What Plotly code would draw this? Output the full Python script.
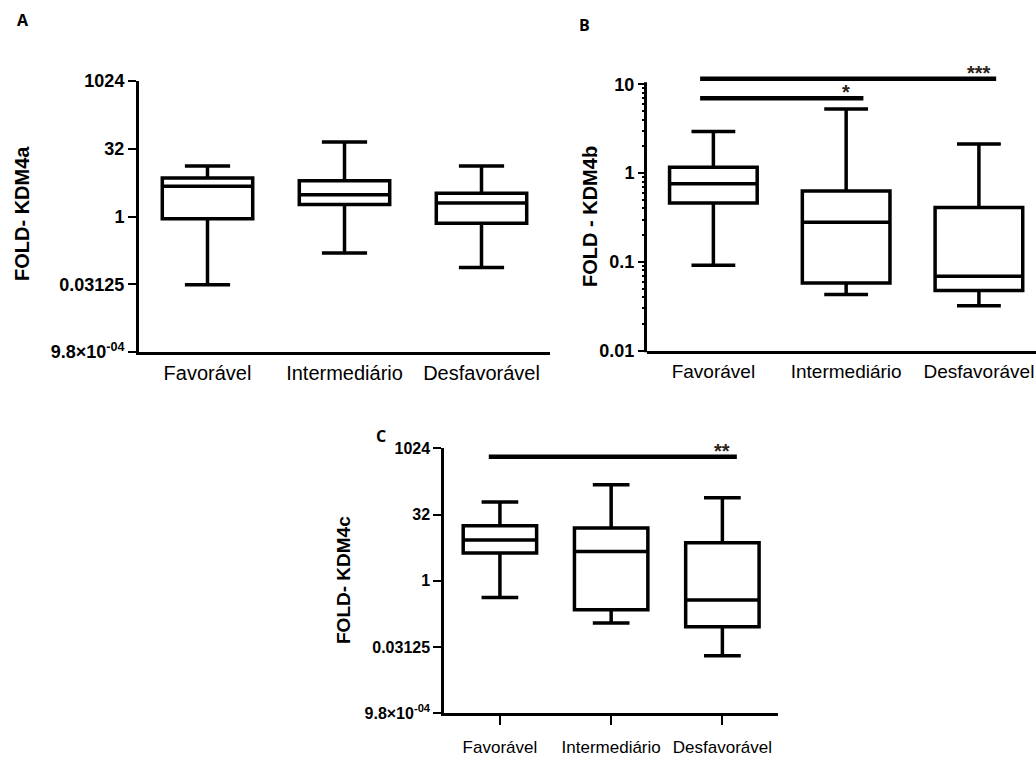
import numpy as np
import plotly.graph_objects as go

categories = ["Favorável", "Intermediário", "Desfavorável"]

# Panel A - KDM4a (log2 axis)
kdm4a_lower = [0.0305, 0.155, 0.074]
kdm4a_q1 = [0.89, 1.85, 0.71]
kdm4a_median = [4.7, 3.05, 2.0]
kdm4a_q3 = [7.2, 6.25, 3.3]
kdm4a_upper = [13.3, 45.0, 13.3]

# Panel B - KDM4b (log10 axis)
kdm4b_lower = [0.0916, 0.043, 0.032]
kdm4b_q1 = [0.46, 0.058, 0.0476]
kdm4b_median = [0.76, 0.279, 0.069]
kdm4b_q3 = [1.16, 0.628, 0.41]
kdm4b_upper = [2.93, 5.28, 2.13]

# Panel C - KDM4c (log2 axis)
kdm4c_lower = [0.42, 0.11, 0.0198]
kdm4c_q1 = [4.26, 0.22, 0.09]
kdm4c_median = [8.4, 4.66, 0.364]
kdm4c_q3 = [17.8, 15.8, 7.3]
kdm4c_upper = [62.0, 152.0, 77.0]

log2_tickvals = [1024, 32, 1, 0.03125, 2 ** -10]
log2_ticktext = ["1024", "32", "1", "0.03125", "9.8×10<sup>-04</sup>"]
log10_tickvals = [0.01, 0.1, 1, 10]
log10_ticktext = ["0.01", "0.1", "1", "10"]
log10_minor = [m * d for d in (0.01, 0.1, 1) for m in range(2, 10)]

# significance brackets: (from category, to category, label, height)
sig_b = [("Favorável", "Intermediário", "*", 6.96),
         ("Favorável", "Desfavorável", "***", 11.5)]
sig_c = [("Favorável", "Desfavorável", "**", 657.0)]

W, H = 1036, 760
FONT = "Liberation Sans, Arial, sans-serif"
xpos = list(range(len(categories)))

fig = go.Figure()

def add_boxes(lo, q1, med, q3, hi, xa, ya):
    fig.add_trace(go.Box(
        x=xpos, lowerfence=lo, q1=q1, median=med, q3=q3, upperfence=hi,
        xaxis=xa, yaxis=ya, width=0.66, whiskerwidth=0.5,
        line=dict(color="black", width=3.5), fillcolor="rgba(255,255,255,0)",
        boxpoints=False, showlegend=False, hoverinfo="skip"))

add_boxes(kdm4a_lower, kdm4a_q1, kdm4a_median, kdm4a_q3, kdm4a_upper, "x", "y")
add_boxes(kdm4b_lower, kdm4b_q1, kdm4b_median, kdm4b_q3, kdm4b_upper, "x2", "y2")
add_boxes(kdm4c_lower, kdm4c_q1, kdm4c_median, kdm4c_q3, kdm4c_upper, "x3", "y3")

annotations = []

def add_sig(sigs, xa, ya, star_shift):
    for a, b, lab, h in sigs:
        i0, i1 = categories.index(a), categories.index(b)
        fig.add_trace(go.Scatter(
            x=[i0 - 0.1, i1 + 0.13], y=[h, h], mode="lines",
            line=dict(color="black", width=4.5), xaxis=xa, yaxis=ya,
            showlegend=False, hoverinfo="skip"))
        annotations.append(dict(
            x=i1, y=np.log10(h), xref=xa, yref=ya, text="<b>" + lab + "</b>",
            showarrow=False, xanchor="center", yanchor="bottom", yshift=star_shift,
            font=dict(family=FONT, size=20, color="#2b2118")))

add_sig(sig_b, "x2", "y2", -7)
add_sig(sig_c, "x3", "y3", -7)

def dx(p):
    return p / W

def dy(p):
    return 1 - p / H

# domains (pixels)
A_dom_x = [dx(139), dx(550)]
A_dom_y = [dy(352), dy(81)]
B_dom_x = [dx(647), 1.0]
B_dom_y = [dy(350.7), dy(66.5)]
C_dom_x = [dx(444.3), dx(778)]
C_dom_y = [dy(713.3), dy(448.3)]

log2_range = [np.log10(2 ** -10), np.log10(2 ** 10)]
B_range = [-2, 1.2]

ytick_common = dict(ticks="outside", ticklen=8, tickwidth=2, tickcolor="black",
                    showgrid=False, zeroline=False, type="log", automargin=False)

layout = dict(
    template="none",
    width=W, height=H, margin=dict(l=0, r=0, t=0, b=0, pad=0), autosize=False,
    paper_bgcolor="white", plot_bgcolor="white", showlegend=False,
    xaxis=dict(domain=A_dom_x, range=[-0.5, 2.5], tickvals=xpos, ticktext=categories,
               ticks="", showline=True, linecolor="black", linewidth=2.5, automargin=False,
               showgrid=False, zeroline=False, anchor="y", ticklabelstandoff=1,
               tickfont=dict(family=FONT, size=20, color="black")),
    yaxis=dict(domain=A_dom_y, range=log2_range, tickvals=log2_tickvals, ticktext=log2_ticktext,
               showline=True, linecolor="black", linewidth=3, anchor="x",
               tickfont=dict(family=FONT, size=18, color="black", weight="bold"), **ytick_common),
    xaxis2=dict(domain=B_dom_x, range=[-0.5, 2.43], tickvals=xpos, ticktext=categories,
                ticks="", showline=True, linecolor="black", linewidth=2.5, automargin=False,
                showgrid=False, zeroline=False, anchor="y2", ticklabelstandoff=2,
                tickfont=dict(family=FONT, size=19, color="black")),
    yaxis2=dict(domain=B_dom_y, range=B_range, tickvals=log10_tickvals, ticktext=log10_ticktext,
                showline=False, anchor="x2",
                minor=dict(tickvals=log10_minor, ticks="outside", ticklen=4, tickwidth=2,
                           tickcolor="black"),
                tickfont=dict(family=FONT, size=18, color="black", weight="bold"), **ytick_common),
    xaxis3=dict(domain=C_dom_x, range=[-0.5, 2.5], tickvals=xpos, ticktext=categories,
                ticks="outside", ticklen=9, tickwidth=2, tickcolor="black", automargin=False,
                showline=True, linecolor="black", linewidth=2.5,
                showgrid=False, zeroline=False, anchor="y3", ticklabelstandoff=8,
                tickfont=dict(family=FONT, size=17, color="black")),
    yaxis3=dict(domain=C_dom_y, range=log2_range, tickvals=log2_tickvals, ticktext=log2_ticktext,
                showline=True, linecolor="black", linewidth=3, anchor="x3",
                tickfont=dict(family=FONT, size=16, color="black", weight="bold"), **ytick_common),
)

# B y-axis line only from 0.01 to 10
frac_top = (np.log10(10) - B_range[0]) / (B_range[1] - B_range[0])
yb0 = B_dom_y[0]
yb1 = B_dom_y[0] + frac_top * (B_dom_y[1] - B_dom_y[0])
shapes = [dict(type="line", xref="paper", yref="paper",
               x0=B_dom_x[0] - 1.5 / W, x1=B_dom_x[0] - 1.5 / W, y0=yb0 - 1.5 / H, y1=yb1 + 2 / H,
               line=dict(color="black", width=3))]

def label(x, y, text, size, angle=0, family=FONT):
    return dict(x=dx(x), y=dy(y), xref="paper", yref="paper", text=text,
                textangle=angle, showarrow=False, xanchor="center", yanchor="middle",
                font=dict(family=family, size=size, color="black"))

annotations += [
    label(22, 214, "<b>FOLD- KDM4a</b>", 20, -90),
    label(590, 217, "<b>FOLD - KDM4b</b>", 20, -90),
    label(343, 580, "<b>FOLD- KDM4c</b>", 19, -90),
    label(23, 20, "<b>A</b>", 16, 0, "Open Sans, Liberation Sans, sans-serif"),
    label(584, 25, "<b>B</b>", 16, 0, "Open Sans, Liberation Sans, sans-serif"),
    label(381, 436, "<b>C</b>", 16, 0, "Open Sans, Liberation Sans, sans-serif"),
]

layout["annotations"] = annotations
layout["shapes"] = shapes
fig.update_layout(**layout)
fig.write_html("out.html")
